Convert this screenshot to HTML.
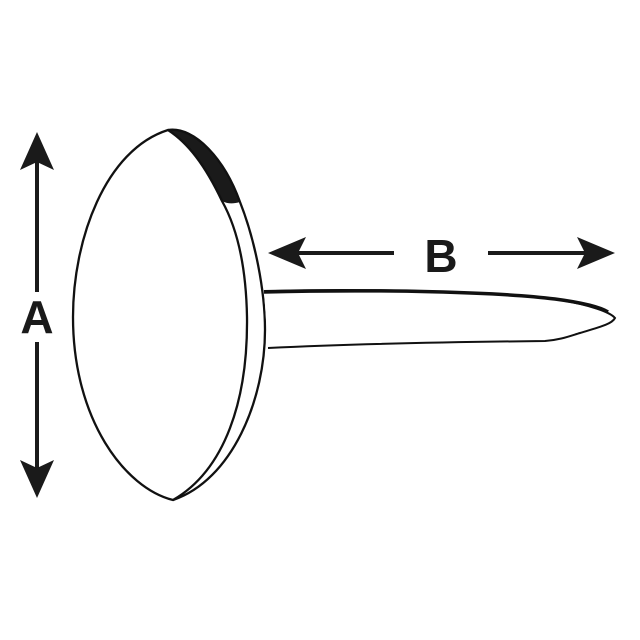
<!DOCTYPE html>
<html><head><style>html,body{margin:0;padding:0;background:#fff}svg{display:block}</style></head>
<body>
<svg width="640" height="640" viewBox="0 0 640 640" xmlns="http://www.w3.org/2000/svg">
<rect width="640" height="640" fill="#fff"/>
<!-- black band -->
<path d="M168,130 C195,126 225,160 240,202 C233,204 228,204 222,201 C205,165 188,143 168,130 Z" fill="#1a1a1a"/>
<!-- outer rim -->
<path d="M168,130 C195,126 225,160 240,202 C255,240 265,290 265,330 C265,400 232,480 173,500" fill="none" stroke="#111" stroke-width="2.3"/>
<!-- front face -->
<path d="M168,130 C105,150 73,240 73,317 C73,420 125,488 173,500 C225,470 248,400 247,317 C246,262 236,226 222,201 C205,165 188,143 168,130 Z" fill="#fff" stroke="#111" stroke-width="2.3"/>
<!-- shaft -->
<path d="M264,291 C380,288 500,292 560,300 C590,305 610,312 615,318 C612,324 600,327 580,333 C570,336 560,340 545,341 C450,342 350,344 268,348" fill="#fff" stroke="#111" stroke-width="2"/>
<path d="M264,292 C380,289 500,292 555,299 C585,303 600,307 608,312" fill="none" stroke="#111" stroke-width="3.5"/>
<!-- A arrow -->
<g fill="#1a1a1a" stroke="#1a1a1a">
<line x1="37" y1="160" x2="37" y2="292" stroke-width="4"/>
<line x1="37" y1="342" x2="37" y2="470" stroke-width="4"/>
<path d="M37,132 L54,170 L37,162 L20,170 Z" stroke="none"/>
<path d="M37,498 L54,460 L37,468 L20,460 Z" stroke="none"/>
<!-- B arrow -->
<line x1="295" y1="253" x2="394" y2="253" stroke-width="4"/>
<line x1="488" y1="253" x2="588" y2="253" stroke-width="4"/>
<path d="M268,253 L306,237 L298,253 L306,269 Z" stroke="none"/>
<path d="M615,253 L577,237 L585,253 L577,269 Z" stroke="none"/>
</g>
<text x="37" y="333" font-family="Liberation Sans, sans-serif" font-weight="bold" font-size="46" text-anchor="middle" fill="#1a1a1a">A</text>
<text x="441" y="272" font-family="Liberation Sans, sans-serif" font-weight="bold" font-size="46" text-anchor="middle" fill="#1a1a1a">B</text>
</svg>
</body></html>
